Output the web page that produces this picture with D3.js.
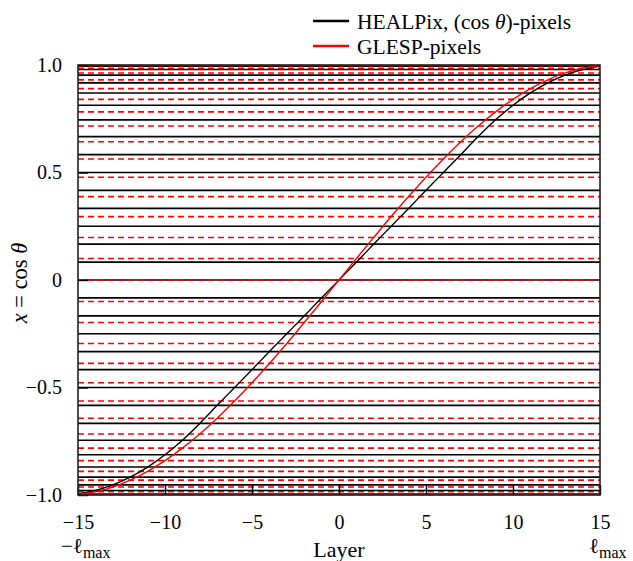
<!DOCTYPE html>
<html>
<head>
<meta charset="utf-8">
<script src="https://d3js.org/d3.v7.min.js"></script>
<style>
  body { margin: 0; background: #fff; }
  svg text { font-family: "Liberation Serif", "Times New Roman", serif; fill: #000; }
  .axis text { font-size: 20px; }
  .axis .domain { display: none; }
</style>
</head>
<body>
<script>
// layer index (ring number counted from the equator)
var layers = [-15, -14, -13, -12, -11, -10, -9, -8, -7, -6, -5, -4, -3, -2, -1, 0,
              1, 2, 3, 4, 5, 6, 7, 8, 9, 10, 11, 12, 13, 14, 15];

// ring positions x = cos(theta)
var healpixX = [-0.995, -0.979, -0.953, -0.917, -0.870, -0.813, -0.745, -0.667,
                -0.583, -0.500, -0.417, -0.333, -0.250, -0.167, -0.083, 0,
                0.083, 0.167, 0.250, 0.333, 0.417, 0.500, 0.583,
                0.667, 0.745, 0.813, 0.870, 0.917, 0.953, 0.979, 0.995];
var glespX = [-0.997, -0.985, -0.963, -0.931, -0.890, -0.840, -0.782, -0.716,
              -0.643, -0.563, -0.478, -0.388, -0.295, -0.198, -0.100, 0,
              0.100, 0.198, 0.295, 0.388, 0.478, 0.563, 0.643,
              0.716, 0.782, 0.840, 0.890, 0.931, 0.963, 0.985, 0.997];

var xTicks = [-15, -10, -5, 0, 5, 10, 15];
var yTicks = [-1, -0.5, 0, 0.5, 1];

var width = 633, height = 561;
var pLeft = 78, pRight = 600, pTop = 65, pBottom = 495;

var svg = d3.select("body").append("svg")
    .attr("width", width)
    .attr("height", height);

var x = d3.scaleLinear().domain([-15, 15]).range([pLeft, pRight]);
var y = d3.scaleLinear().domain([-1, 1]).range([pBottom, pTop]);

var fmtY = function(d) {
    var s = d === 0 ? "0" : d3.format(".1f")(Math.abs(d));
    return d < 0 ? "\u2212" + s : s;
};
var fmtX = function(d) { return d < 0 ? "\u2212" + Math.abs(d) : "" + d; };

// horizontal ring lines
svg.append("g")
    .selectAll("line")
    .data(healpixX).enter()
    .append("line")
    .attr("x1", pLeft).attr("x2", pRight)
    .attr("y1", function(d) { return y(d); })
    .attr("y2", function(d) { return y(d); })
    .attr("stroke", "#000")
    .attr("stroke-width", 1.6);

svg.append("g")
    .selectAll("line")
    .data(glespX).enter()
    .append("line")
    .attr("x1", pLeft).attr("x2", pRight)
    .attr("y1", function(d) { return y(d); })
    .attr("y2", function(d) { return y(d); })
    .attr("stroke", "#ff0000")
    .attr("stroke-width", 1.6)
    .attr("stroke-dasharray", "6,4");

// curves
var line = d3.line()
    .x(function(d) { return x(d[0]); })
    .y(function(d) { return y(d[1]); })
    .curve(d3.curveMonotoneX);

svg.append("path")
    .datum(d3.zip(layers, healpixX))
    .attr("d", line)
    .attr("fill", "none")
    .attr("stroke", "#000")
    .attr("stroke-width", 1.4);

svg.append("path")
    .datum(d3.zip(layers, glespX))
    .attr("d", line)
    .attr("fill", "none")
    .attr("stroke", "#ff0000")
    .attr("stroke-width", 1.4);

// axes, ticks pointing inward
svg.append("g")
    .attr("class", "axis")
    .attr("transform", "translate(0," + pBottom + ")")
    .call(d3.axisBottom(x).tickValues(xTicks).tickFormat(fmtX)
        .tickSize(-10).tickPadding(20))
    .selectAll("line").attr("stroke", "#000").attr("stroke-width", 1.4);

svg.append("g")
    .attr("class", "axis")
    .attr("transform", "translate(" + pLeft + ",0)")
    .call(d3.axisLeft(y).tickValues(yTicks).tickFormat(fmtY)
        .tickSize(-10).tickPadding(16))
    .selectAll("line").attr("stroke", "#000").attr("stroke-width", 1.4);

svg.append("rect")
    .attr("x", pLeft).attr("y", pTop)
    .attr("width", pRight - pLeft).attr("height", pBottom - pTop)
    .attr("fill", "none")
    .attr("stroke", "#222")
    .attr("stroke-width", 1.6);

// axis titles
var yl = svg.append("text")
    .attr("transform", "translate(27,283) rotate(-90)")
    .attr("text-anchor", "middle")
    .style("font-size", "22.5px");
yl.append("tspan").style("font-style", "italic").text("x");
yl.append("tspan").text(" = cos ");
yl.append("tspan").style("font-style", "italic").text("\u03b8");

svg.append("text")
    .attr("x", x(0)).attr("y", 557)
    .attr("text-anchor", "middle")
    .style("font-size", "22px")
    .text("Layer");

var lmin = svg.append("text")
    .attr("x", 61).attr("y", 553)
    .style("font-size", "21px");
lmin.append("tspan").text("\u2212\u2113");
lmin.append("tspan").attr("dy", 5).style("font-size", "16px").text("max");

var lmax = svg.append("text")
    .attr("x", 589).attr("y", 553)
    .style("font-size", "21px");
lmax.append("tspan").text("\u2113");
lmax.append("tspan").attr("dy", 5).style("font-size", "16px").text("max");

// legend
var legend = [
    {color: "#000", y: 21},
    {color: "#ff0000", y: 46}
];
legend.forEach(function(d) {
    svg.append("line")
        .attr("x1", 313).attr("x2", 349)
        .attr("y1", d.y).attr("y2", d.y)
        .attr("stroke", d.color)
        .attr("stroke-width", 2.4);
});

var t1 = svg.append("text").attr("x", 357).attr("y", 29).style("font-size", "21.5px");
t1.append("tspan").text("HEALPix, (cos ");
t1.append("tspan").style("font-style", "italic").text("\u03b8");
t1.append("tspan").text(")-pixels");

svg.append("text").attr("x", 357).attr("y", 54).style("font-size", "21.5px")
    .text("GLESP-pixels");
</script>
</body>
</html>
